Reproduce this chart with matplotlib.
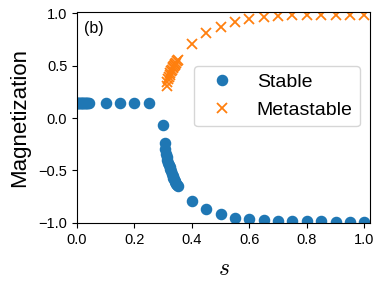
import matplotlib
matplotlib.use("Agg")
import matplotlib.pyplot as plt
import numpy as np

plt.rcParams['font.family'] = ['Liberation Sans', 'DejaVu Sans']
plt.rcParams['mathtext.fontset'] = 'cm'

# Stable branch
stable_s = [0.0, 0.0025, 0.005, 0.0075, 0.01, 0.0125, 0.015, 0.0175, 0.02, 0.0225,
            0.025, 0.0275, 0.03, 0.0325, 0.035, 0.0375, 0.04,
            0.1, 0.15, 0.2, 0.25,
            0.30, 0.305, 0.3075, 0.31, 0.3125, 0.315, 0.3175, 0.32, 0.3225, 0.325,
            0.3275, 0.33, 0.3325, 0.335, 0.3375, 0.34, 0.3425, 0.345, 0.3475, 0.35,
            0.4, 0.45, 0.5, 0.55, 0.6, 0.65, 0.7, 0.75, 0.8, 0.85, 0.9, 0.95, 1.0]
stable_m = [0.147] * 17 + [0.145, 0.145, 0.145, 0.145] + \
           [-0.07, -0.24, -0.30, -0.34, -0.37, -0.40, -0.43, -0.45, -0.47, -0.49,
            -0.51, -0.53, -0.55, -0.57, -0.585, -0.60, -0.615, -0.63, -0.64, -0.65,
            -0.79, -0.87, -0.92, -0.95, -0.965, -0.975, -0.98, -0.985, -0.985,
            -0.988, -0.99, -0.99, -0.99]

# Metastable branch
meta_s = [0.3125, 0.315, 0.3175, 0.32, 0.3225, 0.325, 0.3275, 0.33, 0.3325, 0.335,
          0.3375, 0.34, 0.3425, 0.345, 0.3475, 0.35,
          0.4, 0.45, 0.5, 0.55, 0.6, 0.65, 0.7, 0.75, 0.8, 0.85, 0.9, 0.95, 1.0]
meta_m = [0.31, 0.34, 0.37, 0.39, 0.41, 0.43, 0.45, 0.46, 0.48, 0.49,
          0.50, 0.51, 0.52, 0.53, 0.54, 0.55,
          0.71, 0.81, 0.87, 0.92, 0.945, 0.965, 0.975, 0.98, 0.983,
          0.985, 0.985, 0.985, 0.985]

xticks = [0.0, 0.2, 0.4, 0.6, 0.8, 1.0]
yticks = [-1.0, -0.5, 0.0, 0.5, 1.0]

fig = plt.figure(figsize=(3.82, 2.86), dpi=100)
ax = fig.add_axes([0.2016, 0.219, 0.767, 0.740])

ax.plot(stable_s, stable_m, 'o', color='#1f77b4', markersize=7.3, label='Stable')
ax.plot(meta_s, meta_m, 'x', color='#ff7f0e', markersize=7, markeredgewidth=1.3,
        label='Metastable')

ax.set_xlim(0, 1.02)
ax.set_ylim(-1.006, 1.015)
ax.set_xticks(xticks)
ax.set_yticks(yticks)
ax.tick_params(labelsize=10.5)
ax.set_xlabel('$s$', fontsize=17, labelpad=8)
ax.set_ylabel('Magnetization', fontsize=16, labelpad=6)
ax.text(0.025, 0.955, '(b)', transform=ax.transAxes, fontsize=11.5,
        ha='left', va='top')
ax.legend(loc='upper right', bbox_to_anchor=(1.0, 0.79), fontsize=14)

fig.savefig('out.png', dpi=100)
